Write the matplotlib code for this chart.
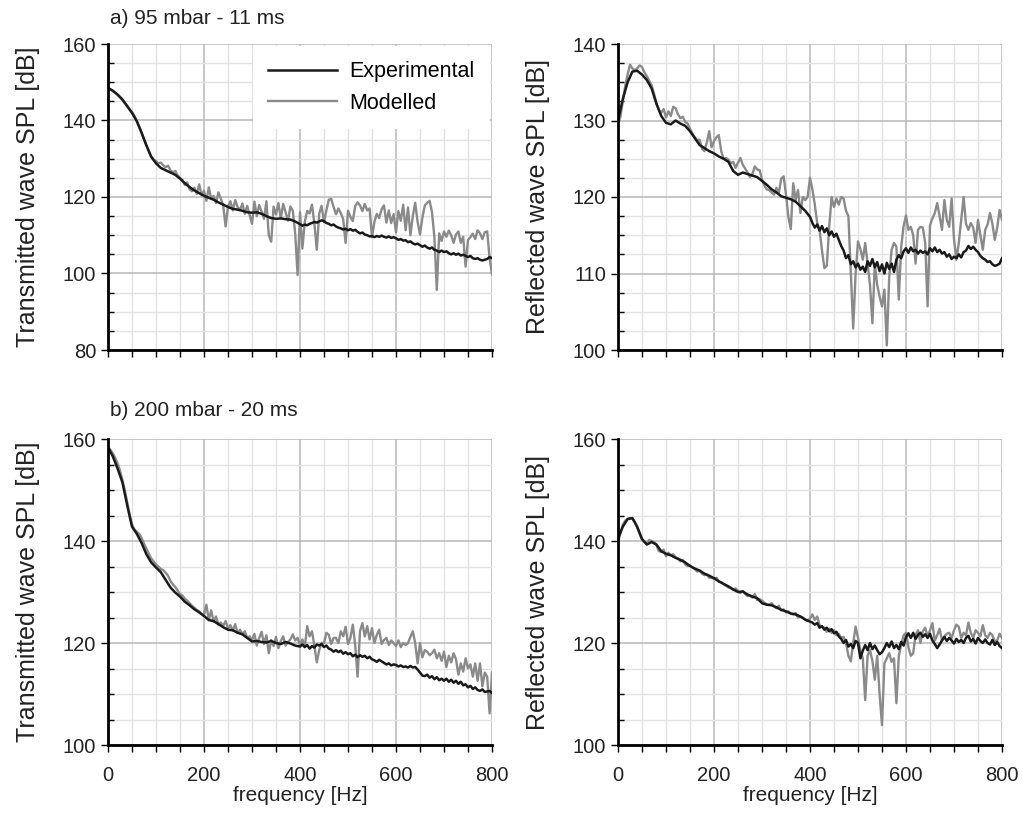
import numpy as np
import matplotlib
matplotlib.use("Agg")
import matplotlib.pyplot as plt
from matplotlib.ticker import MultipleLocator

plt.rcParams['font.family'] = ['Liberation Sans', 'DejaVu Sans']

# ---------------- data ----------------
# Experimental curves: 0-390 Hz at 10 Hz steps ("lo"), 400-800 Hz at 5 Hz steps ("hi")
# Modelled curves: 0-800 Hz at 5 Hz steps

# a) 95 mbar - 11 ms, transmitted wave
a_trans_exp_lo = [148.5, 147.8, 146.8, 145.5, 143.8, 142.0, 139.8, 136.8, 133.5, 130.5,
                  128.8, 127.6, 127.0, 126.4, 125.8, 124.8, 123.6, 122.6, 121.7, 121.0,
                  120.3, 119.8, 119.3, 118.6, 118.0, 117.4, 116.9, 116.7, 116.4, 116.0,
                  115.9, 116.0, 115.6, 115.0, 114.5, 114.3, 114.4, 114.2, 114.1, 113.6]
a_trans_exp_hi = [112.9, 112.5, 112.8, 112.6, 113.0, 113.2, 113.5, 113.3, 113.6, 113.9,
                  113.7, 113.2, 113.0, 112.6, 112.8, 112.3, 112.0, 111.8, 111.5, 111.7,
                  111.3, 111.6, 111.2, 111.4, 110.9, 110.5, 110.7, 110.2, 110.0, 109.7,
                  109.8, 109.5, 109.8, 109.6, 109.9, 109.6, 109.4, 109.7, 109.3, 109.5,
                  109.2, 108.8, 109.0, 108.6, 108.7, 108.2, 108.4, 107.9, 107.6, 107.8,
                  107.4, 107.0, 107.3, 106.8, 106.5, 106.8, 106.2, 106.0, 105.6, 106.0,
                  105.6, 105.8, 105.3, 105.0, 105.3, 104.9, 105.2, 104.7, 104.9, 104.6,
                  104.3, 104.6, 104.0, 103.8, 104.0, 103.6, 103.4, 103.6, 103.8, 104.3, 104.0]
a_trans_mod = [148.5, 148.1, 147.7, 147.2, 146.6, 146.0, 145.3, 144.5, 143.6, 142.8,
               142.2, 141.2, 139.9, 138.4, 136.8, 135.0, 133.5, 132.0, 130.6, 129.8,
               129.4, 128.8, 129.0, 128.3, 127.8, 128.2, 127.0, 126.5, 126.8, 125.7, 125.0,
               124.5, 123.2, 123.8, 122.0, 121.5, 122.4, 120.8, 123.3, 120.5, 121.6,
               119.0, 122.5, 119.5, 120.3, 118.4, 121.2, 119.6, 117.8, 112.3, 117.5,
               118.9, 116.5, 119.2, 117.4, 116.6, 118.3, 115.6, 117.7, 115.4, 113.0,
               118.8, 115.0, 117.9, 116.2, 114.3, 118.9, 110.0, 108.3, 117.5, 115.4,
               118.4, 114.4, 118.2, 116.0, 113.8, 117.5, 116.4, 110.5, 99.6, 116.0,
               106.5, 113.5, 116.4, 115.7, 118.0, 113.0, 106.2, 115.7, 117.7, 113.4,
               116.5, 119.3, 119.5, 117.4, 115.5, 117.0, 115.8, 114.2, 108.0, 116.4,
               114.8, 113.7, 117.6, 118.6, 117.8, 116.3, 118.2, 116.5, 117.0, 109.5,
               113.5, 115.6, 114.5, 116.8, 117.8, 113.3, 116.5, 113.2, 115.5, 110.8,
               116.3, 113.8, 118.0, 111.3, 117.3, 110.0, 115.0, 118.5, 113.5, 110.2,
               114.6, 117.8, 118.5, 119.0, 116.0, 109.5, 95.7, 110.5, 108.5, 111.0,
               109.6, 111.2, 110.0, 108.0, 110.2, 111.0, 108.0, 109.6, 101.8, 108.8,
               109.5, 110.4, 109.0, 111.3, 110.5, 109.0, 110.8, 111.0, 104.0, 99.8]

# a) reflected wave
a_refl_exp_lo = [130.0, 132.8, 135.0, 136.4, 136.5, 136.0, 135.3, 134.2, 132.2, 130.6,
                 129.7, 129.5, 130.0, 129.6, 129.3, 128.6, 127.7, 126.8, 126.4, 126.0,
                 125.7, 125.3, 125.0, 124.6, 123.4, 122.9, 123.2, 123.0, 122.8, 122.6,
                 122.1, 121.6, 121.0, 120.6, 120.1, 119.9, 119.7, 119.4, 118.8, 118.2]
a_refl_exp_hi = [117.4, 116.6, 116.0, 116.4, 115.6, 116.2, 115.4, 115.9, 115.0, 115.5,
                 114.8, 115.2, 114.4, 113.6, 113.0, 112.0, 112.4, 111.2, 111.6, 110.8,
                 111.3, 110.5, 110.9, 110.2, 111.6, 111.0, 111.9, 110.8, 111.5, 110.3,
                 111.2, 110.0, 111.4, 110.6, 111.3, 110.2, 111.8, 112.4, 112.0, 112.9,
                 113.3, 112.7, 113.4, 112.9, 113.1, 112.6, 113.0, 112.7, 112.9, 112.5,
                 113.3, 112.9, 113.4, 112.8, 113.1, 112.6, 112.8, 112.2, 112.5, 111.9,
                 112.2, 112.0, 112.5, 112.1, 112.8, 113.0, 113.6, 113.2, 113.5, 113.1,
                 112.8, 112.3, 112.0, 111.8, 111.5, 111.6, 111.2, 111.0, 111.1, 111.3, 112.0]
a_refl_mod = [129.5, 130.5, 132.5, 134.5, 136.0, 137.3, 136.8, 136.6, 136.8, 137.2,
              137.0, 136.3, 135.8, 135.2, 134.6, 133.5, 132.3, 131.4, 131.0, 131.5,
              130.4, 131.2, 130.6, 131.8, 131.6, 130.8, 130.3, 130.5, 129.8, 129.6,
              128.9, 128.3, 127.8, 127.4, 127.5, 126.3, 126.0, 127.1, 128.6, 126.5,
              127.3, 127.8, 128.1, 126.0, 125.0, 125.1, 124.9, 124.4, 124.6, 123.8,
              124.5, 125.1, 124.2, 123.7, 123.2, 122.6, 123.0, 124.0, 123.6, 123.5,
              122.3, 121.5, 121.0, 120.9, 120.6, 120.3, 121.2, 120.5, 122.4, 122.7,
              120.3, 117.4, 115.8, 121.8, 119.6, 120.9, 117.9, 120.0, 119.6, 120.0,
              122.5, 121.0, 119.0, 116.6, 115.7, 113.0, 110.7, 111.0, 116.1, 120.0,
              118.7, 119.8, 119.0, 120.0, 119.8, 118.2, 117.5, 110.0, 102.8, 110.0,
              114.2, 113.2, 111.8, 114.0, 111.3, 108.5, 103.5, 111.3, 108.5, 107.0,
              105.7, 107.9, 100.6, 109.5, 113.1, 114.0, 113.5, 106.6, 113.5, 116.2,
              117.6, 115.7, 116.1, 115.0, 111.3, 115.7, 116.1, 116.0, 114.0, 105.7,
              116.3, 117.2, 117.9, 119.2, 117.5, 115.7, 119.6, 117.0, 116.1, 119.8,
              114.5, 111.8, 114.0, 117.0, 120.0, 116.5, 115.7, 116.6, 116.0, 114.0,
              117.0, 115.0, 113.1, 115.7, 116.4, 117.9, 116.5, 114.4, 116.0, 118.3, 117.0]

# b) 200 mbar - 20 ms, transmitted wave
b_trans_exp_lo = [158.4, 156.6, 154.2, 151.5, 147.0, 142.8, 141.4, 139.6, 137.4, 135.8,
                  134.8, 133.9, 132.4, 130.9, 129.9, 129.1, 128.1, 127.4, 126.6, 126.0,
                  125.3, 124.5, 124.3, 123.7, 123.1, 122.6, 122.5, 122.0, 121.7, 121.0,
                  120.3, 120.4, 120.2, 120.1, 120.4, 120.0, 119.8, 120.2, 119.9, 119.5]
b_trans_exp_hi = [119.3, 119.7, 119.2, 119.6, 118.9, 119.4, 119.1, 119.7, 119.5, 119.8,
                  119.2, 119.5, 118.9, 118.7, 118.3, 118.6, 118.2, 118.5, 117.9, 118.2,
                  117.8, 118.0, 117.4, 117.7, 117.2, 117.6, 117.3, 117.5, 117.0, 117.3,
                  116.8, 116.6, 116.3, 116.7, 116.4, 116.1, 115.8, 116.0, 115.6, 115.8,
                  115.7, 115.4, 115.6, 115.3, 115.4, 115.2, 115.5, 115.2, 115.3, 114.8,
                  114.2, 113.6, 113.5, 113.8, 113.2, 113.5, 112.9, 113.3, 112.7, 113.0,
                  112.6, 113.0, 112.4, 112.8, 112.2, 112.6, 112.0, 112.4, 111.7, 111.9,
                  111.3, 111.6, 111.0, 111.3, 110.8, 110.6, 110.9, 110.4, 110.5, 110.6, 110.2]
b_trans_mod = [158.4, 157.9, 157.2, 156.3, 155.2, 153.8, 152.0, 150.0, 147.6, 145.2,
               143.2, 142.3, 141.8, 141.4, 140.6, 139.5, 138.5, 137.5, 136.6, 136.0,
               135.4, 135.0, 134.5, 134.3, 133.8, 133.2, 132.2, 131.5, 131.0, 130.3, 129.6,
               129.3, 128.7, 128.3, 127.8, 127.3, 126.9, 126.5, 126.2, 125.7, 125.5,
               127.5, 124.5, 126.4, 124.2, 125.2, 123.6, 124.0, 123.4, 124.3, 122.9,
               123.5, 122.4, 123.7, 122.0, 122.6, 121.7, 122.3, 121.0, 121.3, 120.5,
               121.8, 119.5, 121.0, 122.2, 119.8, 121.5, 118.0, 120.6, 119.4, 121.2,
               119.0, 120.4, 121.3, 119.5, 120.2, 120.7,
               121.7, 120.5, 121.0, 119.6, 120.7, 119.2, 123.3, 121.3, 122.3, 119.4,
               116.2, 118.6, 120.0, 120.0, 122.0, 121.6, 119.8, 121.0, 121.0, 120.0,
               122.3, 121.3, 123.2, 119.8, 121.0, 123.6, 119.6, 113.4, 122.3, 123.9,
               121.3, 123.3, 120.7, 122.9, 120.0, 121.6, 122.6, 119.8, 120.6, 121.0,
               119.6, 120.5, 120.0, 119.4, 120.5, 119.2, 120.0, 119.6, 120.0, 121.2,
               122.3, 120.0, 116.0, 120.0, 117.2, 118.6, 118.3, 117.6, 118.0, 118.7,
               117.0, 118.0, 116.5, 118.3, 115.3, 117.5, 116.2, 118.0, 116.8, 113.8,
               116.0, 114.4, 117.0, 115.0, 115.8, 113.4, 116.0, 112.6, 116.0, 111.5,
               114.2, 113.4, 106.2, 114.2]

# b) reflected wave
b_refl_exp_lo = [140.5, 142.8, 144.3, 144.5, 142.8, 140.4, 139.3, 139.8, 139.3, 138.0,
                 137.5, 137.2, 136.7, 136.3, 135.8, 135.1, 134.6, 134.2, 133.6, 133.2,
                 132.7, 132.1, 131.6, 131.1, 130.5, 130.0, 130.1, 129.5, 129.1, 128.8,
                 127.8, 127.5, 127.4, 127.0, 126.5, 126.2, 125.8, 125.6, 125.2, 124.6]
b_refl_exp_hi = [124.2, 124.0, 123.6, 123.9, 123.0, 123.3, 122.6, 123.0, 122.3, 122.7,
                 121.9, 122.2, 121.3, 120.8, 120.0, 120.6, 119.3, 119.8, 119.0, 120.4,
                 120.0, 117.0, 118.5, 119.6, 118.6, 120.0, 118.8, 119.5, 118.6, 117.8,
                 118.2, 119.0, 120.0, 119.2, 120.3, 119.0, 119.6, 118.8, 120.2, 119.5,
                 121.2, 121.9, 121.0, 122.0, 120.8, 121.6, 122.0, 121.2, 121.7, 121.0,
                 121.8, 120.5, 119.8, 119.0, 119.7, 120.5, 121.2, 120.4, 121.0, 120.5,
                 119.9, 120.8, 120.2, 120.6, 120.0, 121.0, 121.4, 120.3, 120.8, 119.9,
                 121.0, 120.4, 120.0, 120.7, 120.0, 119.7, 120.6, 119.6, 120.2, 119.4, 119.0]
b_refl_mod = [139.8, 141.5, 143.2, 144.0, 144.3, 144.5, 144.3, 143.7, 142.6, 141.4,
              140.3, 139.8, 139.5, 140.2, 140.0, 139.8, 139.3, 138.0, 137.9, 138.3,
              137.0, 137.7, 137.2, 137.4, 136.8, 136.6, 136.0, 136.3, 135.4, 135.1,
              135.2, 134.8, 134.5, 134.0, 134.2, 133.6, 133.3, 133.4, 132.8, 132.8,
              132.6, 132.8, 132.0, 131.9, 131.5, 131.2, 130.9, 130.8, 130.4, 130.7,
              130.2, 129.8, 130.2, 129.6, 129.2, 129.3, 128.9, 129.6, 128.4, 128.6,
              128.3, 127.9, 127.6, 127.5, 127.8, 127.2, 126.8, 127.3, 126.4, 126.6,
              126.0, 126.2, 125.7, 125.6, 125.9, 125.0, 125.2, 125.0, 124.5, 124.3,
              124.8, 125.6, 124.5, 125.2, 123.5, 123.2, 123.0, 122.2, 122.8, 122.0,
              122.5, 121.5, 121.8, 121.0, 121.2, 120.0, 117.5, 116.4, 120.0, 123.2,
              121.0, 118.5, 117.0, 108.8, 117.5, 118.6, 116.5, 112.8, 117.5, 110.0,
              103.9, 116.0, 117.0, 118.0, 116.3, 117.0, 108.2, 117.5, 119.6, 121.5,
              122.0, 119.2, 117.5, 118.0, 121.6, 122.5, 120.0, 122.3, 123.0, 121.3,
              122.5, 123.9, 120.5, 121.5, 122.8, 120.5, 121.3, 121.8, 122.0, 121.0,
              122.5, 123.6, 123.2, 121.0, 122.0, 121.5, 124.0, 122.0, 121.0, 122.5,
              122.0, 121.3, 123.5, 121.5, 121.0, 122.0, 121.5, 120.3, 120.5, 121.8, 121.0]

labels = ["Experimental", "Modelled"]
panel_titles = ["a) 95 mbar - 11 ms", "b) 200 mbar - 20 ms"]
ylabels = ["Transmitted wave SPL [dB]", "Reflected wave SPL [dB]"]
xlabel = "frequency [Hz]"

panels = [
    # (exp_lo, exp_hi, mod, ylim, major, minor)
    (a_trans_exp_lo, a_trans_exp_hi, a_trans_mod, (80, 160), 20, 5),
    (a_refl_exp_lo, a_refl_exp_hi, a_refl_mod, (100, 140), 10, 2.5),
    (b_trans_exp_lo, b_trans_exp_hi, b_trans_mod, (100, 160), 20, 5),
    (b_refl_exp_lo, b_refl_exp_hi, b_refl_mod, (100, 160), 20, 5),
]

W, H = 1023, 821
fig = plt.figure(figsize=(W / 100, H / 100), dpi=100)

positions = [(108, 44), (618, 44), (108, 439), (618, 439)]
aw, ah = 384, 306

BLACK = "#1a1a1a"
GREY = "#8a8a8a"
TXT = "#222222"

for i, (pos, (lo, hi, mod, ylim, maj, mnr)) in enumerate(zip(positions, panels)):
    x0, y0 = pos
    ax = fig.add_axes([x0 / W, 1 - (y0 + ah) / H, aw / W, ah / H])
    f_exp = np.concatenate([np.arange(len(lo)) * 10.0, np.linspace(400, 800, len(hi))])
    exp = np.concatenate([lo, hi])
    f_mod = np.linspace(0, 800, len(mod))
    ax.plot(f_mod, mod, color=GREY, lw=1.7, label=labels[1], zorder=3)
    ax.plot(f_exp, exp, color=BLACK, lw=1.8, label=labels[0], zorder=4)
    ax.set_xlim(0, 800)
    ax.set_ylim(*ylim)
    ax.xaxis.set_major_locator(MultipleLocator(200))
    ax.xaxis.set_minor_locator(MultipleLocator(50))
    ax.yaxis.set_major_locator(MultipleLocator(maj))
    ax.yaxis.set_minor_locator(MultipleLocator(mnr))
    ax.grid(which="major", color="#b8b8b8", lw=1.1, zorder=0)
    ax.grid(which="minor", color="#e2e2e2", lw=1.0, zorder=0)
    ax.set_axisbelow(True)
    for s in ("top", "right"):
        ax.spines[s].set_visible(False)
    for s in ("left", "bottom"):
        ax.spines[s].set_linewidth(2.0)
        ax.spines[s].set_color("black")
        ax.spines[s].set_zorder(5)
    ax.tick_params(axis="both", which="major", labelsize=14.5, colors="black",
                   length=5, width=1.0, direction="out", labelcolor=TXT)
    ax.tick_params(axis="x", which="minor", length=5, width=1.0, direction="out")
    ax.tick_params(axis="y", which="minor", length=4, width=1.0, direction="in")
    ax.tick_params(axis="x", which="major", pad=10)
    ax.set_ylabel(ylabels[i % 2], fontsize=18, color=TXT, labelpad=16)
    if i >= 2:
        ax.set_xlabel(xlabel, fontsize=15, color=TXT, labelpad=1)
    else:
        ax.tick_params(axis="x", which="major", labelbottom=False)
    if i == 0:
        leg = ax.legend(handles=ax.get_lines()[::-1], loc="upper right",
                        fontsize=15.5, frameon=True, fancybox=False,
                        facecolor="white", edgecolor="none", framealpha=1.0,
                        handlelength=3.2, borderaxespad=0.1, labelspacing=0.5,
                        borderpad=0.7, handletextpad=0.6)
        leg.set_zorder(10)

fig.text(110 / W, 1 - 18 / H, panel_titles[0], fontsize=15, va="center", ha="left", color=TXT)
fig.text(110 / W, 1 - 410 / H, panel_titles[1], fontsize=15, va="center", ha="left", color=TXT)

fig.savefig("out.png", dpi=100, facecolor="white")
